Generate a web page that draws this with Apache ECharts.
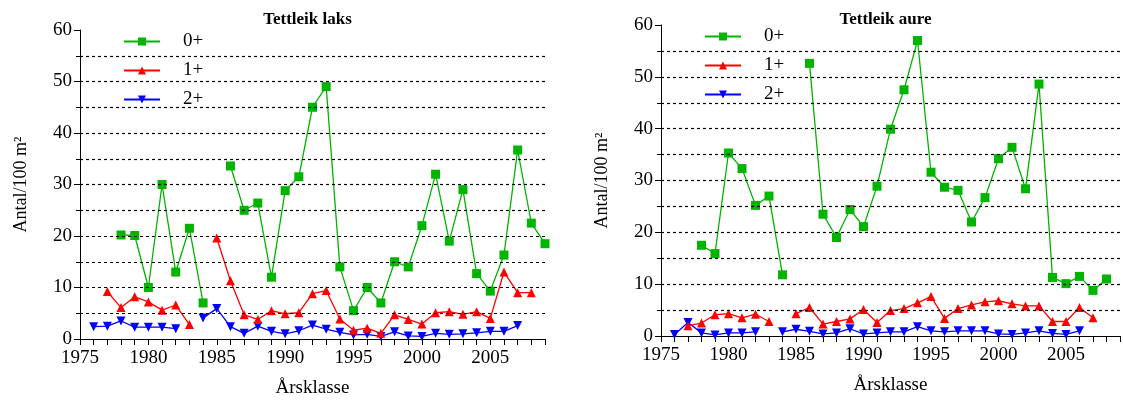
<!DOCTYPE html>
<html><head><meta charset="utf-8">
<script src="https://cdn.jsdelivr.net/npm/echarts@6/dist/echarts.min.js"></script>
<style>body{margin:0;background:#fff}#c{width:1123px;height:408px}</style>
</head><body><div id="c"></div>
<script>
var years = [];
for (var y = 1976; y <= 2009; y++) years.push(y);
var titles = ['Tettleik laks', 'Tettleik aure'];
var names = ['0+', '1+', '2+'];
// laks, 1976..2009
var laks0 = [null, null, 20.2, 20.1, 10, 30, 13, 21.5, 7, null, 33.6, 25, 26.4, 12, 28.8, 31.5, 45, 49, 14, 5.5, 10, 7, 15, 14, 22, 32, 19, 29, 12.7, 9.3, 16.3, 36.7, 22.5, 18.5];
var laks1 = [null, 9.2, 6.1, 8.2, 7.2, 5.6, 6.6, 2.8, null, 19.6, 11.3, 4.7, 3.8, 5.5, 4.9, 5.1, 8.8, 9.4, 3.9, 1.7, 2.1, 1.1, 4.7, 3.8, 2.9, 5.1, 5.3, 4.8, 5.3, 4, 13, 9, 9, null];
var laks2 = [2.4, 2.5, 3.5, 2.3, 2.3, 2.3, 2.0, null, 4.1, 5.9, 2.4, 1.1, 2.5, 1.5, 1.0, 1.6, 2.7, 1.9, 1.3, 0.8, 0.9, 0.5, 1.4, 0.6, 0.5, 1.1, 0.9, 1.0, 1.2, 1.5, 1.5, 2.6, null, null];
// aure, 1976..2009
var aure0 = [null, null, 17.5, 15.9, 35.3, 32.3, 25.2, 27, 11.8, null, 52.6, 23.5, 19, 24.4, 21.1, 28.9, 39.9, 47.5, 57, 31.6, 28.7, 28.1, 22, 26.7, 34.2, 36.4, 28.4, 48.6, 11.3, 10.1, 11.5, 8.8, 11, null];
var aure1 = [null, 2.0, 2.5, 4.1, 4.3, 3.5, 4.2, 2.8, null, 4.3, 5.5, 2.3, 2.8, 3.3, 5.1, 2.6, 4.9, 5.3, 6.4, 7.6, 3.4, 5.3, 6.0, 6.6, 6.8, 6.2, 5.8, 5.8, 2.8, 2.8, 5.5, 3.5, null, null];
var aure2 = [0.3, 2.6, 0.6, 0.2, 0.6, 0.6, 0.8, null, 0.8, 1.3, 0.9, 0.4, 0.6, 1.4, 0.4, 0.6, 0.8, 0.8, 1.8, 1.0, 0.8, 1.0, 1.0, 1.0, 0.4, 0.3, 0.6, 1.0, 0.5, 0.3, 1.0, null, null, null];

var font = 'Liberation Serif';
var colors = ['#00b400', '#ff0000', '#0000ff'];
var symbols = ['rect', 'triangle', 'path://M0,0 L10,0 L5,10 Z'];
var sets = [[laks0, laks1, laks2], [aure0, aure1, aure2]];
var grids = [{left: 80, top: 30, width: 465, height: 309}, {left: 661, top: 25, width: 459, height: 311}];

function pairs(arr) { return years.map(function (yr, i) { return [yr, arr[i]]; }); }

var option = {
    backgroundColor: '#fff',
    textStyle: {fontFamily: font},
    title: [], grid: grids, xAxis: [], yAxis: [], series: [], legend: []
};
for (var p = 0; p < 2; p++) {
    option.title.push({text: titles[p], left: grids[p].left + grids[p].width / 2 - 10, textAlign: 'center', top: 6,
        textStyle: {fontFamily: font, fontSize: 17, fontWeight: 'bold', color: '#000'}});
    option.xAxis.push({type: 'value', gridIndex: p, min: 1975, max: 2009, interval: 5,
        name: 'Årsklasse', nameLocation: 'middle', nameGap: 40,
        nameTextStyle: {fontFamily: font, fontSize: 19, color: '#000'},
        axisLine: {onZero: false, lineStyle: {color: '#000'}}, axisTick: {length: 6, lineStyle: {color: '#000'}},
        minorTick: {show: true, splitNumber: 5, length: 6, lineStyle: {color: '#000'}},
        axisLabel: {fontFamily: font, fontSize: 19, color: '#000', margin: 10, showMaxLabel: false, formatter: function (v) { return String(v); }},
        splitLine: {show: false}});
    option.yAxis.push({type: 'value', gridIndex: p, min: 0, max: 60, interval: 10,
        name: 'Antal/100 m²', nameLocation: 'middle', nameGap: 50,
        nameTextStyle: {fontFamily: font, fontSize: 18, color: '#000'},
        axisLine: {show: true, lineStyle: {color: '#000'}}, axisTick: {show: true, length: 6, lineStyle: {color: '#000'}},
        minorTick: {show: true, splitNumber: 2, length: 4, lineStyle: {color: '#000'}},
        axisLabel: {fontFamily: font, fontSize: 19, color: '#000'}, splitLine: {show: false}});
    for (var s = 0; s < 3; s++) {
        option.series.push({name: names[s], type: 'line', xAxisIndex: p, yAxisIndex: p,
            data: pairs(sets[p][s]), connectNulls: false, symbol: symbols[s], symbolSize: 9,
            itemStyle: {color: colors[s]}, lineStyle: {color: colors[s], width: 1.3},
            markLine: s === 0 ? {silent: true, symbol: 'none', label: {show: false},
                lineStyle: {color: '#000', type: [3, 3], width: 1.2},
                data: [5, 10, 15, 20, 25, 30, 35, 40, 45, 50, 55].map(function (v) { return {yAxis: v}; })} : undefined,
            z: 3 - s});
    }
    option.legend.push({orient: 'vertical', left: grids[p].left + 38, top: grids[p].top - 3,
        itemWidth: 36, itemHeight: 10, itemGap: 10,
        data: names,
        textStyle: {fontFamily: font, fontSize: 19, color: '#000', padding: [0, 0, 0, 18]}});
}
var chart = echarts.init(document.getElementById('c'));
chart.setOption(option);
</script></body></html>
